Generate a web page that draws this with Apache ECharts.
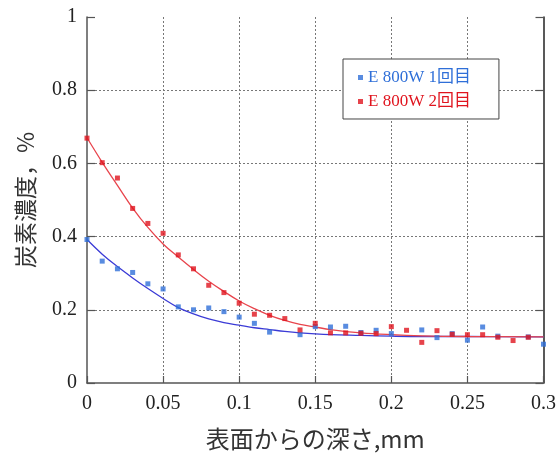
<!DOCTYPE html>
<html>
<head>
<meta charset="utf-8">
<script src="https://cdn.jsdelivr.net/npm/echarts@6/dist/echarts.min.js"></script>
<style>
html,body{margin:0;padding:0;background:#fff;}
#c{width:559px;height:456px;}
</style>
</head>
<body>
<div id="c"></div>
<script>
// Depth from surface (mm) for measured points
var depth = [0,0.01,0.02,0.03,0.04,0.05,0.06,0.07,0.08,0.09,0.10,0.11,0.12,0.13,0.14,0.15,0.16,0.17,0.18,0.19,0.20,0.21,0.22,0.23,0.24,0.25,0.26,0.27,0.28,0.29,0.30];
// Measured carbon concentration (%)
var run1 = [0.392,0.333,0.312,0.302,0.271,0.257,0.208,0.200,0.205,0.195,0.180,0.163,0.139,null,0.132,0.154,0.153,0.155,0.138,0.144,0.135,null,0.145,0.124,0.135,0.117,0.153,0.128,null,0.126,0.106];
var run2 = [0.669,0.602,0.560,0.477,0.436,0.409,0.350,0.312,0.267,0.247,0.218,0.188,0.185,0.176,0.145,0.163,0.137,0.137,0.136,0.135,0.154,0.144,0.111,0.143,0.133,0.132,0.132,0.125,0.116,0.125,null];
// Fitted curves
var fitDepth = [0,0.01,0.02,0.03,0.04,0.05,0.06,0.07,0.08,0.09,0.10,0.11,0.12,0.13,0.14,0.15,0.16,0.18,0.20,0.22,0.25,0.30];
var fit1 = [0.392,0.352,0.318,0.287,0.258,0.231,0.206,0.189,0.175,0.165,0.158,0.151,0.146,0.141,0.137,0.134,0.132,0.130,0.128,0.127,0.127,0.126];
var fit2 = [0.670,0.603,0.540,0.478,0.425,0.380,0.344,0.310,0.278,0.250,0.224,0.203,0.185,0.171,0.160,0.153,0.146,0.137,0.132,0.129,0.127,0.126];
var names = ['E 800W 1回目','E 800W 2回目'];
var xTicks = {min:0, max:0.3, interval:0.05};
var yTicks = {min:0, max:1, interval:0.2};

function pairs(xs, ys){ return xs.map(function(x,i){ return [x, ys[i]]; }); }

var blueP = '#2f6fd8', redP = '#e0141e';
var blueL = '#3b3bd6', redL = '#e8444c';
var axisCol = '#555';
var serif = '"Liberation Serif","Noto Sans CJK JP",serif';
var cjk = '"Noto Sans CJK JP",sans-serif';

var chart = echarts.init(document.getElementById('c'), null, {renderer:'canvas'});
chart.setOption({
  animation:false,
  backgroundColor:'#fff',
  grid:{left:87, right:12, top:17, bottom:70},
  legend:{
    data:names,
    orient:'vertical',
    left:343, top:59,
    padding:[10,28,9,15],
    itemGap:7,
    itemWidth:5, itemHeight:5,
    icon:'rect',
    backgroundColor:'#fff',
    borderColor:'#444', borderWidth:1, borderRadius:0,
    textStyle:{fontFamily:serif, fontSize:17, color:'inherit'},
    formatter:function(n){return n;}
  },
  xAxis:{
    type:'value', min:xTicks.min, max:xTicks.max, interval:xTicks.interval,
    name:'表面からの深さ,mm', nameLocation:'middle', nameGap:44,
    nameTextStyle:{fontFamily:cjk, fontSize:24, color:'#333'},
    axisLine:{show:true, lineStyle:{color:axisCol, width:1.5}},
    axisTick:{show:true, inside:true, length:7, lineStyle:{color:axisCol, width:1.2}},
    axisLabel:{fontFamily:serif, fontSize:20, color:'#222', margin:11},
    splitLine:{show:true, showMinLine:false, showMaxLine:false, lineStyle:{color:'#777', type:[2,2], width:1}}
  },
  yAxis:[{
    type:'value', min:yTicks.min, max:yTicks.max, interval:yTicks.interval,
    name:'炭素濃度，%', nameLocation:'middle', nameGap:50, nameRotate:90,
    nameTextStyle:{fontFamily:cjk, fontSize:23, color:'#333'},
    axisLine:{show:true, lineStyle:{color:axisCol, width:1.5}},
    axisTick:{show:true, inside:true, length:8, lineStyle:{color:axisCol, width:1.2}},
    axisLabel:{fontFamily:serif, fontSize:20, color:'#222', margin:10},
    splitLine:{show:true, showMinLine:false, showMaxLine:false, lineStyle:{color:'#777', type:[2,2], width:1}}
  },{
    type:'value', position:'right', min:yTicks.min, max:yTicks.max, interval:yTicks.interval,
    axisLine:{show:true, onZero:false, lineStyle:{color:'#222', width:1.5}},
    axisTick:{show:true, inside:true, length:8, lineStyle:{color:axisCol, width:1.2}},
    axisLabel:{show:false},
    splitLine:{show:false}
  }],
  series:[
    {name:'fit1', type:'line', data:pairs(fitDepth, fit1), smooth:0.4, showSymbol:false, silent:true,
     lineStyle:{color:blueL, width:1.3}, z:2},
    {name:'fit2', type:'line', data:pairs(fitDepth, fit2), smooth:0.4, showSymbol:false, silent:true,
     lineStyle:{color:redL, width:1.3}, z:2},
    {name:names[0], type:'scatter', data:pairs(depth, run1), symbol:'rect', symbolSize:5,
     itemStyle:{color:blueP}, z:3},
    {name:names[1], type:'scatter', data:pairs(depth, run2), symbol:'rect', symbolSize:5,
     itemStyle:{color:redP}, z:4}
  ]
});
</script>
</body>
</html>
